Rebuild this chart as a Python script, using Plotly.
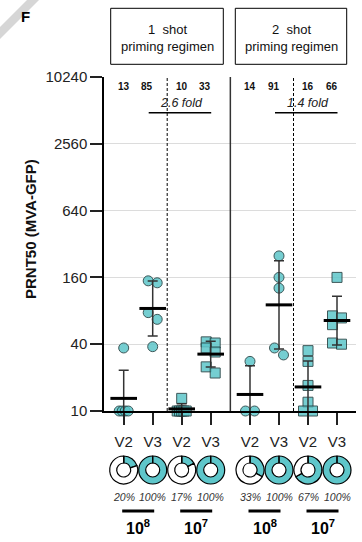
import numpy as np
import plotly.graph_objects as go

W, H = 362, 542

# ---------------- data ----------------
regimens = ["1  shot<br>priming regimen", "2  shot<br>priming regimen"]
visits = ["V2", "V3", "V2", "V3", "V2", "V3", "V2", "V3"]
doses = ["10<sup>8</sup>", "10<sup>7</sup>", "10<sup>8</sup>", "10<sup>7</sup>"]
dose_symbol = ["circle", "square", "circle", "square"]

s1_d8_v2 = [37, 10, 10, 10, 10]
s1_d8_v3 = [149, 143, 77, 67, 38]
s1_d7_v2 = [13, 10, 10, 10, 10, 10]
s1_d7_v3 = [42, 41, 37, 34, 25, 22]
s2_d8_v2 = [28, 10, 10]
s2_d8_v3 = [250, 160, 128, 37, 32]
s2_d7_v2 = [35, 28, 17, 12, 10, 10]
s2_d7_v3 = [160, 72, 69, 60, 41, 40]
groups = [s1_d8_v2, s1_d8_v3, s1_d7_v2, s1_d7_v3,
          s2_d8_v2, s2_d8_v3, s2_d7_v2, s2_d7_v3]

gmt_labels = ["13", "85", "10", "33", "14", "91", "16", "66"]
fold_labels = ["2.6 fold", "1.4 fold"]
pct_positive = [20, 100, 17, 100, 33, 100, 67, 100]
yticks = [10, 40, 160, 640, 2560, 10240]

TEAL = "#5ec6ca"

# ---------------- layout helpers (pixel -> paper) ----------------
def px(x):
    return x / W

def py(y):
    return 1 - y / H

X0, X1 = 104, 356
Y0, Y1 = 77, 411

# x positions of each column (pixel units == x-data units)
pos = [123.7 + 29 * j + 10.3 * (j // 4) for j in range(8)]


def jitter(vals):
    v = np.array(vals, dtype=float)
    order = np.argsort(-v, kind="stable")
    lv = np.log10(v)
    offs = np.zeros(len(v))
    clusters, cur = [], [order[0]]
    for a, b in zip(order[:-1], order[1:]):
        if abs(lv[a] - lv[b]) < 0.065:
            cur.append(b)
        else:
            clusters.append(cur)
            cur = [b]
    clusters.append(cur)
    for c in clusters:
        m = len(c)
        if m == 1:
            continue
        if np.allclose(v[c], v[c[0]]):
            step = min(9, 9 / (m - 1))
            for k, idx in enumerate(c):
                offs[idx] = (k - (m - 1) / 2) * step
        else:
            for k, idx in enumerate(c):
                offs[idx] = -4.5 if k % 2 == 0 else 4.5
    return offs


fig = go.Figure()

# points
for j, vals in enumerate(groups):
    offs = jitter(vals)
    fig.add_trace(go.Scatter(
        x=[pos[j] + o for o in offs], y=vals, mode="markers",
        marker=dict(symbol=dose_symbol[j // 2], size=10, color=TEAL, opacity=0.85,
                    line=dict(color="#1d3b3c", width=1)),
        cliponaxis=False, hoverinfo="skip", showlegend=False))

# geometric mean +/- geometric SD
for j, vals in enumerate(groups):
    lv = np.log(np.array(vals, dtype=float))
    gm = float(np.exp(lv.mean()))
    gsd = float(np.exp(lv.std(ddof=1)))
    fig.add_trace(go.Scatter(
        x=[pos[j]], y=[gm], mode="markers",
        marker=dict(symbol="line-ew", size=19, color="black",
                    line=dict(color="black", width=3)),
        error_y=dict(type="data", symmetric=False, array=[gm * gsd - gm],
                     arrayminus=[gm - gm / gsd], color="#333", thickness=1.5, width=5),
        hoverinfo="skip", showlegend=False))

# donuts
R = 14
for j, p in enumerate(pct_positive):
    cx, cy = pos[j], 470
    fig.add_trace(go.Pie(
        values=[p, 100 - p], sort=False, direction="clockwise", rotation=0,
        hole=0.5, textinfo="none", hoverinfo="skip", showlegend=False,
        marker=dict(colors=[TEAL, "white"], line=dict(color="black", width=1.2)),
        domain=dict(x=[px(cx - R), px(cx + R)], y=[py(cy + R), py(cy - R)])))

shapes = []
annotations = []
FONT = "Arial, Liberation Sans, sans-serif"


def ann(text, x, y, size, color="#111", xref="paper", **kw):
    annotations.append(dict(text=text, x=x, y=py(y), xref=xref, yref="paper",
                            xanchor="center", yanchor="middle", showarrow=False,
                            font=dict(size=size, color=color, family=FONT), **kw))


# corner band
band = [(0, 27), (27, 0), (39, 0), (0, 39)]
shapes.append(dict(type="path", xref="paper", yref="paper",
                   path="M " + " L ".join("%f,%f" % (px(a), py(b)) for a, b in band) + " Z",
                   fillcolor="#d6d6d6", line=dict(width=0), layer="below"))
ann("<b>F</b>", px(25), 16, 15, "black")

# regimen boxes
for (bx0, bx1), txt in zip([(110.7, 223.3), (235.3, 346.7)], regimens):
    shapes.append(dict(type="rect", xref="paper", yref="paper",
                       x0=px(bx0), x1=px(bx1), y0=py(64.3), y1=py(8.3),
                       line=dict(color="black", width=1)))
    ann(txt, px((bx0 + bx1) / 2), 37.5, 13, "#111")

# separators
for k in (0, 2):
    xm = (pos[2 * k + 1] + pos[2 * k + 2]) / 2
    shapes.append(dict(type="line", xref="x", yref="paper", x0=xm, x1=xm,
                       y0=py(Y1), y1=py(Y0),
                       line=dict(color="black", width=1, dash="3px,2px")))
xm = (pos[3] + pos[4]) / 2
shapes.append(dict(type="line", xref="x", yref="paper", x0=xm, x1=xm,
                   y0=py(Y1), y1=py(Y0), line=dict(color="#333", width=1.5)))

# GMT labels
for j, lab in enumerate(gmt_labels):
    xx = pos[j] - (5.5 if j % 2 else 0)
    ann("<b>%s</b>" % lab, xx, 86.5, 10, "#111", xref="x")

# fold change
for r, lab in enumerate(fold_labels):
    a, b = pos[4 * r + 1], pos[4 * r + 3]
    ann("<i>%s</i>" % lab, pos[4 * r + 2], 103, 12.5, "#222", xref="x")
    shapes.append(dict(type="line", xref="x", yref="paper", x0=a - 4, x1=b + 0.5,
                       y0=py(112.7), y1=py(112.7), line=dict(color="black", width=1.5)))

# donut top ticks, percentages
for j, p in enumerate(pct_positive):
    shapes.append(dict(type="line", xref="paper", yref="paper", x0=px(pos[j]), x1=px(pos[j]),
                       y0=py(470 - R), y1=py(470 - R / 2), line=dict(color="black", width=1.2)))
    ann("<i>%d%%</i>" % p, px(pos[j]), 497, 10.5, "#333")

# dose bars and labels
for d, lab in enumerate(doses):
    cx = (pos[2 * d] + pos[2 * d + 1]) / 2
    shapes.append(dict(type="line", xref="paper", yref="paper", x0=px(cx - 16), x1=px(cx + 16),
                       y0=py(511), y1=py(511), line=dict(color="black", width=3)))
    ann("<b>%s</b>" % lab, px(cx), 527, 16, "black")

# y title
ann("<b>PRNT50 (MVA-GFP)</b>", px(31), 229, 15, "#111", textangle=-90)

fig.update_layout(
    template="none",
    width=W, height=H, margin=dict(l=0, r=0, t=0, b=0, pad=0, autoexpand=False),
    paper_bgcolor="white", plot_bgcolor="white", showlegend=False,
    font=dict(family=FONT, color="#222"),
    shapes=shapes, annotations=annotations,
    xaxis=dict(domain=[px(X0), px(X1)], range=[X0, X1], showline=True, linecolor="black",
               linewidth=2, ticks="outside", ticklen=12, tickwidth=1.5, tickcolor="#222",
               tickvals=pos, ticktext=visits, tickfont=dict(size=15, color="#222"),
               ticklabelstandoff=4, automargin=False,
               showgrid=False, zeroline=False, fixedrange=True),
    yaxis=dict(domain=[py(Y1), py(Y0)], type="log", range=[1, np.log10(10240)],
               showline=True, linecolor="black", linewidth=1.5, ticks="outside",
               ticklen=12, tickwidth=1.5, tickcolor="#222", automargin=False,
               tickvals=yticks, ticktext=[str(t) for t in yticks],
               tickfont=dict(size=15, color="#222"), showgrid=True,
               gridcolor="#dcdcdc", gridwidth=1, zeroline=False, fixedrange=True),
)

fig.write_html("out.html")
